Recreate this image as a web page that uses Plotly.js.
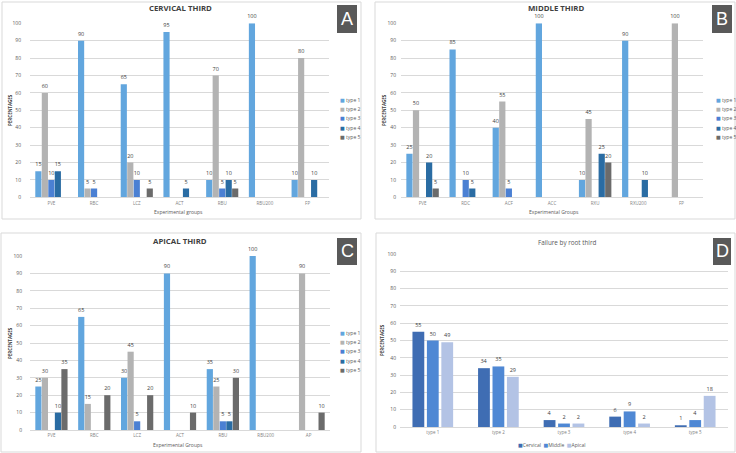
<!DOCTYPE html>
<html>
<head>
<meta charset="utf-8">
<script src="https://cdn.plot.ly/plotly-3.0.1.min.js"></script>
<style>
  html, body { margin: 0; padding: 0; background: #ffffff; }
  #chart { width: 736px; height: 453px; }
</style>
</head>
<body>
<div id="chart"></div>
<script>
// Failure types shown in panels A–C
const types = ['type 1', 'type 2', 'type 3', 'type 4', 'type 5'];

// A — cervical third
const groupsCervical = ['PVE', 'RBC', 'LCZ', 'ACT', 'RBU', 'RBU200', 'FP'];
const cervicalType1 = [15, 90, 65, 95, 10, 100, 10];
const cervicalType2 = [60, 5, 20, 0, 70, 0, 80];
const cervicalType3 = [10, 5, 10, 0, 5, 0, 0];
const cervicalType4 = [15, 0, 0, 5, 10, 0, 10];
const cervicalType5 = [0, 0, 5, 0, 5, 0, 0];

// B — middle third
const groupsMiddle = ['PVE', 'RDC', 'ACF', 'ACC', 'RXU', 'RXU200', 'FP'];
const middleType1 = [25, 85, 40, 100, 10, 90, 0];
const middleType2 = [50, 0, 55, 0, 45, 0, 100];
const middleType3 = [0, 10, 5, 0, 0, 0, 0];
const middleType4 = [20, 5, 0, 0, 25, 10, 0];
const middleType5 = [5, 0, 0, 0, 20, 0, 0];

// C — apical third
const groupsApical = ['PVE', 'RBC', 'LCZ', 'ACT', 'RBU', 'RBU200', 'AP'];
const apicalType1 = [25, 65, 30, 90, 35, 100, 0];
const apicalType2 = [30, 15, 45, 0, 25, 0, 90];
const apicalType3 = [0, 0, 5, 0, 5, 0, 0];
const apicalType4 = [10, 0, 0, 0, 5, 0, 0];
const apicalType5 = [35, 20, 20, 10, 30, 0, 10];

// D — failure by root third
const failureTypes = ['type 1', 'type 2', 'type 3', 'type 4', 'type 5'];
const thirds = ['Cervical', 'Middle', 'Apical'];
const byThirdCervical = [55, 34, 4, 6, 1];
const byThirdMiddle = [50, 35, 2, 9, 4];
const byThirdApical = [49, 29, 2, 2, 18];

// ---- styling ----
const typeColors = ['#62a6de', '#b3b3b3', '#4b80d3', '#2a6ca3', '#6b6b6b'];
const thirdColors = ['#3f6db3', '#4f88d4', '#b3c3e5'];
const FONT = 'Open Sans, DejaVu Sans, sans-serif';
const W = 736, H = 453;
const px = v => v / W;
const py = v => 1 - v / H;

const labelOf = arr => arr.map(v => (v ? String(v) : ''));
const valueFont = { family: FONT, size: 5.5, color: '#404040' };

const traces = [];

function panelTraces(groups, series, xa, ya) {
  series.forEach((vals, i) => {
    traces.push({
      type: 'bar',
      name: types[i],
      x: groups,
      y: vals,
      xaxis: xa,
      yaxis: ya,
      marker: { color: typeColors[i] },
      text: labelOf(vals),
      textposition: 'outside',
      textfont: valueFont,
      outsidetextfont: valueFont,
      constraintext: 'none',
      cliponaxis: false,
      showlegend: false,
      hoverinfo: 'x+y+name'
    });
  });
}

panelTraces(groupsCervical, [cervicalType1, cervicalType2, cervicalType3, cervicalType4, cervicalType5], 'x', 'y');
panelTraces(groupsMiddle, [middleType1, middleType2, middleType3, middleType4, middleType5], 'x2', 'y2');
panelTraces(groupsApical, [apicalType1, apicalType2, apicalType3, apicalType4, apicalType5], 'x3', 'y3');

// Panel D uses its own bar widths, so its bars are placed with explicit offsets
const dOffsets = [-0.31, -0.09, 0.13];
[byThirdCervical, byThirdMiddle, byThirdApical].forEach((vals, i) => {
  traces.push({
    type: 'bar',
    name: thirds[i],
    x: failureTypes,
    y: vals,
    xaxis: 'x4',
    yaxis: 'y4',
    width: 0.18,
    offset: dOffsets[i],
    marker: { color: thirdColors[i] },
    text: labelOf(vals),
    textposition: 'outside',
    textfont: valueFont,
    outsidetextfont: valueFont,
    constraintext: 'none',
    cliponaxis: false,
    showlegend: false,
    hoverinfo: 'x+y+name'
  });
});

function xAxis(domain, anchor) {
  return {
    domain: domain,
    anchor: anchor,
    type: 'category',
    showgrid: false,
    showline: true,
    linecolor: '#d9d9d9',
    linewidth: 1,
    ticks: '',
    tickfont: { family: FONT, size: 4.5, color: '#7f7f7f' },
    ticklabelstandoff: 1,
    fixedrange: true
  };
}
function yAxis(domain, anchor, standoff) {
  return {
    domain: domain,
    anchor: anchor,
    range: [0, 100],
    dtick: 10,
    showgrid: true,
    gridcolor: '#d9d9d9',
    gridwidth: 1,
    zeroline: false,
    showline: false,
    ticks: '',
    tickfont: { family: FONT, size: 5, color: '#595959' },
    ticklabelstandoff: standoff,
    fixedrange: true
  };
}

const shapes = [];
const annotations = [];

// panel cards
[[2, 2, 361, 219], [375, 2, 735, 219], [1, 233, 361, 452], [376, 233, 735, 452]].forEach(c => {
  shapes.push({
    type: 'rect', xref: 'paper', yref: 'paper',
    x0: px(c[0]), x1: px(c[2]), y0: py(c[3]), y1: py(c[1]),
    line: { color: '#d9d9d9', width: 1 }, fillcolor: 'rgba(0,0,0,0)', layer: 'below'
  });
});

// panel letters
[['A', 337, 5, 357, 33], ['B', 712, 5, 732, 33], ['C', 337, 238, 357, 265], ['D', 713, 238, 731, 265]].forEach(b => {
  shapes.push({
    type: 'rect', xref: 'paper', yref: 'paper',
    x0: px(b[1]), x1: px(b[3]), y0: py(b[4]), y1: py(b[2]),
    line: { width: 0 }, fillcolor: '#595959'
  });
  annotations.push({
    xref: 'paper', yref: 'paper', x: px((b[1] + b[3]) / 2), y: py((b[2] + b[4]) / 2),
    xanchor: 'center', yanchor: 'middle', showarrow: false,
    text: b[0], font: { family: 'Liberation Sans, Arial, sans-serif', size: 18, color: '#ffffff' }
  });
});

// panel titles
function note(text, x, y, size, color, extra) {
  annotations.push(Object.assign({
    xref: 'paper', yref: 'paper', x: px(x), y: py(y),
    xanchor: 'center', yanchor: 'middle', showarrow: false,
    text: text, font: { family: FONT, size: size, color: color }
  }, extra || {}));
}
note('<b>CERVICAL THIRD</b>', 180.5, 8.5, 7.8, '#404040');
note('<b>MIDDLE THIRD</b>', 556, 8, 7.8, '#404040');
note('<b>APICAL THIRD</b>', 180, 241, 7.8, '#404040');
note('Failure by root third', 567, 243, 6.3, '#595959');

// axis titles
note('<b>PERCENTAGES</b>', 10, 110, 4.5, '#404040', { textangle: -90 });
note('<b>PERCENTAGES</b>', 384, 110, 4.5, '#404040', { textangle: -90 });
note('<b>PERCENTAGES</b>', 10, 343, 4.5, '#404040', { textangle: -90 });
note('<b>PERCENTAGES</b>', 382, 340, 4.5, '#404040', { textangle: -90 });
note('Experimental groups', 178, 212, 5, '#595959');
note('Experimental Groups', 554, 212, 5, '#595959');
note('Experimental Groups', 178, 445, 5, '#595959');

// legends for A–C
function typeLegend(x, y0) {
  types.forEach((t, i) => {
    annotations.push({
      xref: 'paper', yref: 'paper', x: px(x), y: py(y0 + i * 9.4),
      xanchor: 'left', yanchor: 'middle', showarrow: false,
      text: '<span style="color:' + typeColors[i] + '">■</span> ' + t,
      font: { family: FONT, size: 5, color: '#595959' }
    });
  });
}
typeLegend(338, 99.5);
typeLegend(714, 99.5);
typeLegend(338, 332.5);

// legend for D
annotations.push({
  xref: 'paper', yref: 'paper', x: px(551), y: py(445),
  xanchor: 'center', yanchor: 'middle', showarrow: false,
  text: thirds.map((t, i) => '<span style="color:' + thirdColors[i] + '">■</span>' + t).join('  '),
  font: { family: FONT, size: 5, color: '#595959' }
});

const layout = {
  width: W,
  height: H,
  autosize: false,
  margin: { l: 0, r: 0, t: 0, b: 0, pad: 0 },
  paper_bgcolor: '#ffffff',
  plot_bgcolor: 'rgba(0,0,0,0)',
  barmode: 'group',
  bargap: 0.24,
  bargroupgap: 0.05,
  showlegend: false,
  font: { family: FONT, color: '#595959' },
  xaxis: xAxis([px(30), px(329)], 'y'),
  yaxis: yAxis([py(197.3), py(23.3)], 'x', 8),
  xaxis2: xAxis([px(401), px(703)], 'y2'),
  yaxis2: yAxis([py(197.3), py(23.3)], 'x2', 4),
  xaxis3: xAxis([px(30), px(330)], 'y3'),
  yaxis3: yAxis([py(430), py(256)], 'x3', 7),
  xaxis4: xAxis([px(400), px(728)], 'y4'),
  yaxis4: yAxis([py(427), py(254)], 'x4', 3),
  shapes: shapes,
  annotations: annotations
};

Plotly.newPlot('chart', traces, layout, { displayModeBar: false, staticPlot: true });
</script>
</body>
</html>
